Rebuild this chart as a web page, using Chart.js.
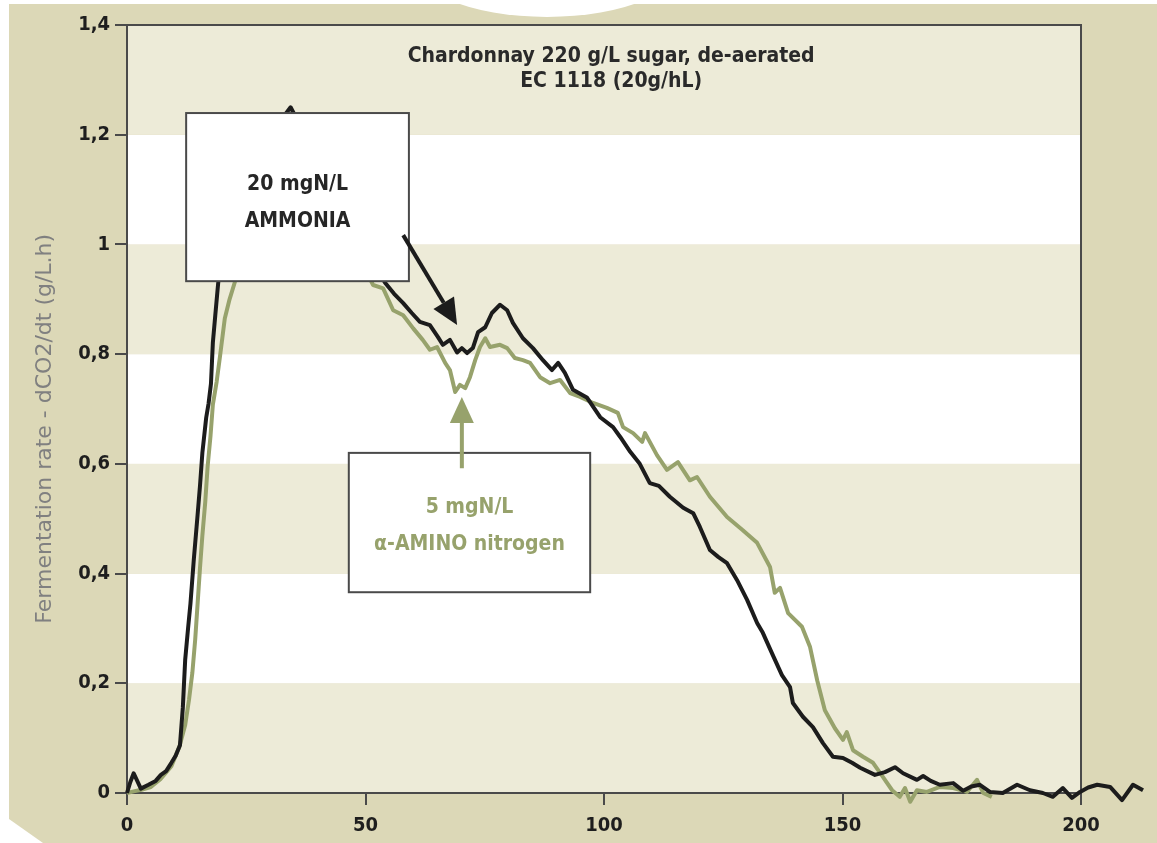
<!DOCTYPE html>
<html>
<head>
<meta charset="utf-8">
<title>Fermentation rate</title>
<script src="https://cdn.jsdelivr.net/npm/chart.js@4.4.1/dist/chart.umd.min.js"></script>
<style>
  html, body { margin: 0; padding: 0; background: #fff; }
  #wrap { width: 1157px; height: 843px; position: relative; }
</style>
</head>
<body>
<div id="wrap"><canvas id="rateChart"></canvas></div>
<script>
// time (h) vs fermentation rate (g/L.h), read as [x, y] pairs
const ammoniaRate = [
  [0, 0], [0.7, 0.02], [1.4, 0.036], [2.9, 0.008], [4.5, 0.015], [6, 0.022], [7.1, 0.033], [8.2, 0.04],
  [9.3, 0.055], [10.2, 0.068], [11.1, 0.087], [11.7, 0.155], [12.2, 0.243], [12.8, 0.3], [13.3, 0.345],
  [14.0, 0.425], [14.8, 0.507], [15.3, 0.56], [15.8, 0.62], [16.6, 0.684], [17.1, 0.71], [17.6, 0.746],
  [18.0, 0.821], [18.5, 0.87], [19.1, 0.928], [20, 1.0], [21.5, 1.07], [23, 1.12], [25, 1.16], [27, 1.19],
  [29, 1.21], [31, 1.225], [33, 1.235], [34.3, 1.25], [35.5, 1.23], [38, 1.18], [41, 1.12], [44, 1.07],
  [47, 1.02], [50, 0.985], [52, 0.96], [54.1, 0.93], [56, 0.91], [57.9, 0.893], [59.7, 0.875],
  [61.4, 0.859], [63.5, 0.853], [65.2, 0.831], [66.2, 0.817], [67.7, 0.826], [69.2, 0.803], [70.2, 0.811],
  [71.3, 0.802], [72.5, 0.811], [73.6, 0.84], [75.1, 0.849], [76.5, 0.875], [78.2, 0.89], [79.7, 0.88],
  [80.9, 0.857], [83.0, 0.829], [85.1, 0.811], [87.2, 0.789], [89.1, 0.771], [90.4, 0.784], [91.8, 0.766],
  [93.5, 0.735], [96.4, 0.721], [99.2, 0.685], [101.9, 0.667], [103.4, 0.649], [105.5, 0.622],
  [107.5, 0.6], [109.6, 0.565], [111.5, 0.56], [113.8, 0.54], [116.6, 0.52], [118.7, 0.51], [120.1, 0.485],
  [122.2, 0.443], [124, 0.43], [125.8, 0.419], [127.9, 0.388], [130, 0.352], [132.1, 0.31], [133.3, 0.292],
  [135.2, 0.255], [137.3, 0.215], [139, 0.193], [139.6, 0.164], [141.7, 0.139], [143.8, 0.12],
  [145.9, 0.091], [148, 0.066], [150.1, 0.064], [152, 0.055], [153.7, 0.046], [156.8, 0.033],
  [158.9, 0.038], [161, 0.047], [162.7, 0.036], [165.6, 0.024], [166.9, 0.031], [168.5, 0.022],
  [170.4, 0.015], [173.2, 0.018], [175.3, 0.004], [177, 0.012], [178.8, 0.015], [180.9, 0.002],
  [183.6, 0], [186.6, 0.015], [189.3, 0.005], [192, 0], [194.1, -0.007], [196.2, 0.009], [198.1, -0.009],
  [199.8, 0.002], [201.5, 0.01], [203.4, 0.015], [206.1, 0.011], [208.6, -0.013], [210.9, 0.015], [213, 0.005]
];

const aminoRate = [
  [0, 0], [1.4, 0.003], [3, 0.006], [5, 0.011], [7, 0.025], [9.3, 0.049], [11, 0.085], [12.2, 0.124],
  [13, 0.17], [13.7, 0.219], [14.3, 0.28], [14.8, 0.345], [15.3, 0.41], [15.8, 0.469], [16.4, 0.53],
  [16.9, 0.595], [17.5, 0.65], [18.0, 0.708], [18.8, 0.75], [19.5, 0.796], [20.5, 0.865], [21.5, 0.9],
  [22.6, 0.931], [24, 0.98], [26, 1.03], [28, 1.07], [31, 1.1], [34, 1.11], [37, 1.1], [40, 1.08],
  [43, 1.05], [46, 1.01], [49, 0.97], [51.6, 0.926], [53.7, 0.92], [55.8, 0.88], [57.9, 0.871], [60, 0.847],
  [62, 0.826], [63.5, 0.808], [65, 0.813], [66.7, 0.784], [67.7, 0.771], [68.8, 0.731], [69.8, 0.744],
  [70.9, 0.738], [71.9, 0.758], [73, 0.789], [74, 0.813], [75.1, 0.829], [76.1, 0.813], [78.2, 0.817],
  [79.7, 0.811], [81.3, 0.793], [83, 0.789], [84.5, 0.784], [86.6, 0.758], [88.7, 0.747], [90.8, 0.753],
  [92.9, 0.729], [95, 0.722], [97.7, 0.711], [100.6, 0.702], [102.9, 0.693], [104, 0.667], [106.1, 0.656],
  [108, 0.64], [108.6, 0.656], [111.1, 0.616], [113.2, 0.589], [115.5, 0.603], [118, 0.57], [119.5, 0.576],
  [122.2, 0.54], [125.8, 0.503], [129.1, 0.479], [132.1, 0.456], [134.8, 0.412], [135.8, 0.365],
  [136.9, 0.374], [138.6, 0.328], [141.5, 0.303], [143.2, 0.266], [144.7, 0.205], [146.3, 0.151],
  [148.4, 0.118], [150.1, 0.097], [150.9, 0.111], [152.2, 0.078], [154.3, 0.066], [156.4, 0.055],
  [158.5, 0.029], [160.4, 0.005], [162, -0.007], [163.1, 0.009], [164.2, -0.016], [165.6, 0.005],
  [167.7, 0.002], [170.4, 0.011], [173.2, 0.009], [176.1, 0.002], [178.2, 0.024], [179.5, 0], [181.3, -0.007]
];

const xTicks = [0, 50, 100, 150, 200];
const yTicks = [0, 0.2, 0.4, 0.6, 0.8, 1, 1.2, 1.4];
const titleLines = ['Chardonnay 220 g/L sugar, de-aerated', 'EC 1118 (20g/hL)'];
const yAxisLabel = 'Fermentation rate - dCO2/dt (g/L.h)';
const ammoniaLabel = ['20 mgN/L', 'AMMONIA'];
const aminoLabel = ['5 mgN/L', '\u03B1-AMINO nitrogen'];

// the framed plot stops at 200 h; the scale runs a bit further so the tail of the
// ammonia trace can spill past the frame
const FRAME_X_MAX = 200;
const SCALE_X_MAX = 213.5;

const PAGE_BEIGE = '#dcd8b7';
const BAND_TINT = '#edebd8';
const INK = '#1c1c1c';
const OLIVE = '#97a26c';
const FRAME = '#4a4a4a';
const FONT = "'DejaVu Sans Condensed', 'DejaVu Sans', sans-serif";

const toPoints = pairs => pairs.map(([x, y]) => ({ x, y }));
const fmtComma = v => String(Math.round(v * 10) / 10).replace('.', ',');

// page tint, white bands and the plot frame
const backdrop = {
  id: 'backdrop',
  beforeDraw(chart) {
    const { ctx, width, height, chartArea: a, scales: { x, y } } = chart;
    const right = x.getPixelForValue(FRAME_X_MAX);
    ctx.save();
    ctx.fillStyle = '#fff';
    ctx.fillRect(0, 0, width, height);
    ctx.fillStyle = PAGE_BEIGE;
    ctx.beginPath();
    ctx.moveTo(9, 4);
    ctx.lineTo(width, 4);
    ctx.lineTo(width, height);
    ctx.lineTo(43, height);
    ctx.lineTo(9, 819);
    ctx.closePath();
    ctx.fill();
    ctx.fillStyle = '#fff';
    ctx.beginPath();
    ctx.ellipse(547, -43, 140, 60, 0, 0, Math.PI * 2);
    ctx.fill();
    for (let i = 0; i < yTicks.length - 1; i++) {
      const top = y.getPixelForValue(yTicks[i + 1]);
      const bottom = y.getPixelForValue(yTicks[i]);
      ctx.fillStyle = i % 2 === 0 ? BAND_TINT : '#fff';
      ctx.fillRect(a.left, top, right - a.left, bottom - top);
    }
    ctx.restore();
  },
  beforeDatasetsDraw(chart) {
    const { ctx, chartArea: a, scales: { x } } = chart;
    const right = x.getPixelForValue(FRAME_X_MAX);
    ctx.save();
    ctx.strokeStyle = FRAME;
    ctx.lineWidth = 2;
    ctx.beginPath();
    ctx.moveTo(a.left, a.top);
    ctx.lineTo(right, a.top);
    ctx.lineTo(right, a.bottom);
    ctx.lineTo(a.left, a.bottom);
    ctx.stroke();
    ctx.restore();
  }
};

function drawArrow(ctx, x1, y1, x2, y2, color) {
  const ang = Math.atan2(y2 - y1, x2 - x1);
  const len = 26, half = 12;
  const bx = x2 - len * Math.cos(ang), by = y2 - len * Math.sin(ang);
  ctx.strokeStyle = color;
  ctx.fillStyle = color;
  ctx.lineWidth = 4;
  ctx.beginPath();
  ctx.moveTo(x1, y1);
  ctx.lineTo(bx, by);
  ctx.stroke();
  ctx.beginPath();
  ctx.moveTo(x2, y2);
  ctx.lineTo(bx + half * Math.sin(ang), by - half * Math.cos(ang));
  ctx.lineTo(bx - half * Math.sin(ang), by + half * Math.cos(ang));
  ctx.closePath();
  ctx.fill();
}

// heading, axis caption, label boxes and pointer arrows, placed in data units
const callouts = {
  id: 'callouts',
  afterDatasetsDraw(chart, args, opts) {
    const { ctx, chartArea: a, scales: { x, y } } = chart;
    ctx.save();
    ctx.textAlign = 'center';
    ctx.textBaseline = 'middle';

    ctx.font = 'bold 21px ' + FONT;
    ctx.fillStyle = '#2a2a2a';
    titleLines.forEach((line, i) => {
      ctx.fillText(line, x.getPixelForValue(opts.title.x), y.getPixelForValue(opts.title.y[i]));
    });

    ctx.save();
    ctx.translate(a.left - 82, y.getPixelForValue(opts.axisCaptionY));
    ctx.rotate(-Math.PI / 2);
    ctx.font = "22px 'DejaVu Sans', sans-serif";
    ctx.fillStyle = '#808080';
    ctx.fillText(yAxisLabel, 0, 0);
    ctx.restore();

    opts.boxes.forEach(b => {
      const l = x.getPixelForValue(b.x0), r = x.getPixelForValue(b.x1);
      const t = y.getPixelForValue(b.y1), btm = y.getPixelForValue(b.y0);
      ctx.fillStyle = '#fff';
      ctx.fillRect(l, t, r - l, btm - t);
      ctx.strokeStyle = FRAME;
      ctx.lineWidth = 2;
      ctx.strokeRect(l, t, r - l, btm - t);
      ctx.fillStyle = b.color;
      ctx.font = 'bold 21px ' + FONT;
      const cx = (l + r) / 2, cy = (t + btm) / 2 + b.shift;
      b.text.forEach((line, i) => {
        ctx.fillText(line, cx, cy + (i - (b.text.length - 1) / 2) * 37);
      });
    });

    opts.arrows.forEach(ar => {
      drawArrow(ctx, x.getPixelForValue(ar.from[0]), y.getPixelForValue(ar.from[1]),
        x.getPixelForValue(ar.to[0]), y.getPixelForValue(ar.to[1]), ar.color);
    });
    ctx.restore();
  }
};

const ctx = document.getElementById('rateChart').getContext('2d');
new Chart(ctx, {
  type: 'line',
  data: {
    datasets: [
      { label: '20 mgN/L ammonia', data: toPoints(ammoniaRate), borderColor: INK, borderWidth: 4, order: 0 },
      { label: '5 mgN/L alpha-amino nitrogen', data: toPoints(aminoRate), borderColor: OLIVE, borderWidth: 4, order: 1 }
    ]
  },
  options: {
    responsive: true,
    maintainAspectRatio: false,
    animation: false,
    layout: { padding: { left: 0, top: 25, right: 11.6, bottom: 0 } },
    datasets: {
      line: { pointRadius: 0, tension: 0, clip: false, borderJoinStyle: 'round', fill: false }
    },
    plugins: {
      legend: { display: false },
      tooltip: { enabled: false },
      callouts: {
        title: { x: 101.5, y: [1.343, 1.297] },
        axisCaptionY: 0.664,
        boxes: [
          { x0: 12.4, x1: 59.1, y0: 0.933, y1: 1.2395, text: ammoniaLabel, color: '#262626', shift: 6 },
          { x0: 46.5, x1: 97.1, y0: 0.366, y1: 0.62, text: aminoLabel, color: OLIVE, shift: 3 }
        ],
        arrows: [
          { from: [57.9, 1.017], to: [69.2, 0.853], color: INK },
          { from: [70.2, 0.592], to: [70.2, 0.722], color: OLIVE }
        ]
      }
    },
    scales: {
      x: {
        type: 'linear',
        min: 0,
        max: SCALE_X_MAX,
        afterFit: s => { s.height = 50; },
        afterBuildTicks: s => { s.ticks = xTicks.map(v => ({ value: v })); },
        grid: { drawOnChartArea: false, drawTicks: true, tickLength: 12, color: FRAME, lineWidth: 2 },
        border: { display: false },
        ticks: { color: '#1e1e1e', padding: 9, font: { family: FONT, weight: 'bold', size: 20 } }
      },
      y: {
        type: 'linear',
        min: 0,
        max: 1.4,
        afterFit: s => { s.width = 127; },
        afterBuildTicks: s => { s.ticks = yTicks.map(v => ({ value: v })); },
        grid: { drawOnChartArea: false, drawTicks: true, tickLength: 12, color: FRAME, lineWidth: 2 },
        border: { display: true, color: FRAME, width: 2 },
        ticks: { color: '#1e1e1e', padding: 5, font: { family: FONT, weight: 'bold', size: 20 }, callback: v => fmtComma(v) }
      }
    }
  },
  plugins: [backdrop, callouts]
});
</script>
</body>
</html>
